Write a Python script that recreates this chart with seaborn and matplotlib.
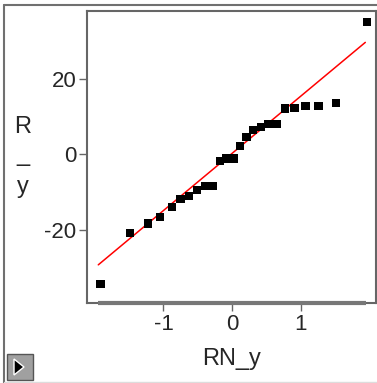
import numpy as np
import pandas as pd
import seaborn as sns
from matplotlib import pyplot as plt
from matplotlib.patches import Rectangle, Polygon

# normal quantiles (x) and residuals (y)
rn_y = [-1.92, -1.49, -1.23, -1.05, -0.88, -0.75, -0.63, -0.51, -0.40, -0.28,
        -0.18, -0.09, 0.02, 0.11, 0.21, 0.30, 0.42, 0.53, 0.65, 0.77,
        0.91, 1.07, 1.26, 1.51, 1.96]
r_y = [-34.3, -20.9, -18.3, -16.7, -14.0, -11.9, -11.1, -9.5, -8.4, -8.4,
       -1.8, -1.1, -1.1, 2.3, 4.6, 6.5, 7.3, 8.1, 8.1, 12.2,
       12.3, 12.8, 12.8, 13.6, 35.1]
fit_x = [-1.95, 1.94]
fit_y = [-29.3, 29.7]
x_ticks = [-1, 0, 1]
y_ticks = [-20, 0, 20]

df = pd.DataFrame({"RN_y": rn_y, "R_y": r_y})

sns.set_style("white")
plt.rcParams['font.family'] = ['Liberation Sans', 'DejaVu Sans']

fig = plt.figure(figsize=(3.77, 3.83), dpi=100)
ax = fig.add_axes([87.3 / 377, (383 - 303.3) / 383, 289 / 377, 292.6 / 383])

sns.scatterplot(data=df, x="RN_y", y="R_y", marker="s", s=36, color="black",
                edgecolor="none", ax=ax, zorder=3)
sns.lineplot(x=fit_x, y=fit_y, color="red", lw=1.1, ax=ax, zorder=2)

ax.set_xlim(-2.11, 2.10)
ax.set_ylim(-39.5, 38.1)
ax.set_xticks(x_ticks)
ax.set_yticks(y_ticks)
ax.set_xticklabels([str(t) for t in x_ticks])
ax.set_yticklabels([str(t) for t in y_ticks])
ax.tick_params(axis="both", labelsize=16, length=6, width=1, color="#666666",
               direction="out", pad=2, left=True, bottom=True)
for sp in ax.spines.values():
    sp.set_color("#666666")
    sp.set_linewidth(1.5)

# grey range bar along the bottom of the frame
ax.plot([-1.95, 1.95], [-39.5, -39.5], color="#777777", lw=3, clip_on=False,
        solid_capstyle="butt", zorder=4)

ax.set_xlabel("RN_y", fontsize=17, labelpad=9)
ax.set_ylabel("")
# stacked y label, one character per line
for ch, base in [("R", 133), ("_", 161), ("y", 193)]:
    fig.text(23 / 377, 1 - base / 383, ch, fontsize=17, ha="center",
             va="baseline")

# outer panel frame
fig.add_artist(plt.Line2D([4 / 377, 4 / 377], [0, 1 - 5 / 383],
                          transform=fig.transFigure, color="#707070", lw=1.5))
fig.add_artist(plt.Line2D([4 / 377, 1], [1 - 5 / 383, 1 - 5 / 383],
                          transform=fig.transFigure, color="#707070", lw=1.5))
fig.add_artist(plt.Line2D([4 / 377, 1], [1.5 / 383, 1.5 / 383],
                          transform=fig.transFigure, color="#dddddd", lw=1))

# little disclosure button bottom-left
fig.add_artist(Rectangle((7 / 377, 3 / 383), 26 / 377, 26 / 383,
                         transform=fig.transFigure, facecolor="#a0a0a0",
                         edgecolor="#555555", lw=1))
fig.add_artist(Polygon([[14 / 377, 8 / 383], [14 / 377, 24 / 383], [24 / 377, 16 / 383]],
                       closed=True, transform=fig.transFigure, facecolor="black"))

fig.savefig("out.png", dpi=100)
